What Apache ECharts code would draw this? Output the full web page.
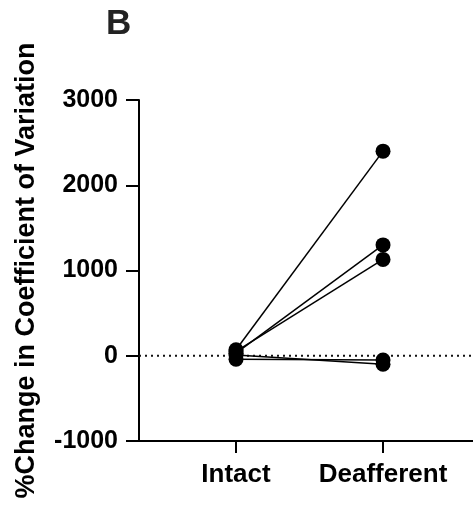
<!DOCTYPE html>
<html>
<head>
<meta charset="utf-8">
<script src="https://cdn.jsdelivr.net/npm/echarts@6/dist/echarts.min.js"></script>
<style>
  html, body { margin: 0; padding: 0; background: #fff; }
  #chart { width: 473px; height: 508px; }
</style>
</head>
<body>
<div id="chart"></div>
<script>
// Conditions on the x axis
const conditions = ['Intact', 'Deafferent'];
// Per-subject % change in coefficient of variation
const intactValues = [70, 30, 50, -40, 10];
const deafferentValues = [2400, 1300, 1130, -50, -100];
// Y axis ticks
const yTicks = [-1000, 0, 1000, 2000, 3000];

const FONT = '"Liberation Sans", Arial, Helvetica, sans-serif';
const chart = echarts.init(document.getElementById('chart'), null, { renderer: 'canvas' });

const xMin = -0.66, xMax = 1.612;

const subjectSeries = intactValues.map((v, i) => ({
  type: 'line',
  data: [[0, v], [1, deafferentValues[i]]],
  symbol: 'circle',
  symbolSize: 15,
  itemStyle: { color: '#000' },
  lineStyle: { color: '#000', width: 1.5 },
  z: 5,
  animation: false
}));

chart.setOption({
  animation: false,
  grid: { left: 139, right: 0, top: 100, bottom: 67, containLabel: false },
  title: {
    text: 'B', left: 101, top: 2,
    textStyle: { fontFamily: FONT, fontWeight: 'bold', fontSize: 35, color: '#222' }
  },
  xAxis: {
    type: 'value', min: xMin, max: xMax,
    splitLine: { show: false },
    axisLine: { show: true, onZero: false, lineStyle: { color: '#000', width: 2 } },
    axisTick: { show: true, customValues: [0, 1], length: 12, lineStyle: { color: '#000', width: 2 } },
    axisLabel: {
      customValues: [0, 1],
      formatter: v => conditions[Math.round(v)],
      margin: 21,
      fontFamily: FONT, fontWeight: 'bold', fontSize: 26, color: '#000'
    }
  },
  yAxis: {
    type: 'value', min: yTicks[0], max: yTicks[yTicks.length - 1], interval: 1000,
    splitLine: { show: false },
    axisLine: { show: true, onZero: false, lineStyle: { color: '#000', width: 2 } },
    axisTick: { show: true, length: 13, lineStyle: { color: '#000', width: 2 } },
    axisLabel: {
      margin: 21,
      formatter: v => String(v),
      fontFamily: FONT, fontWeight: 'bold', fontSize: 25, color: '#000'
    },
    name: '%Change in Coefficient of Variation',
    nameLocation: 'middle',
    nameGap: 99,
    nameTextStyle: { fontFamily: FONT, fontWeight: 'bold', fontSize: 27, color: '#000' }
  },
  series: [
    {
      type: 'line',
      data: [[xMin, 0], [xMax, 0]],
      symbol: 'none',
      lineStyle: { color: '#111', width: 2, type: [2, 4] },
      z: 1,
      silent: true
    },
    ...subjectSeries
  ]
});
</script>
</body>
</html>
